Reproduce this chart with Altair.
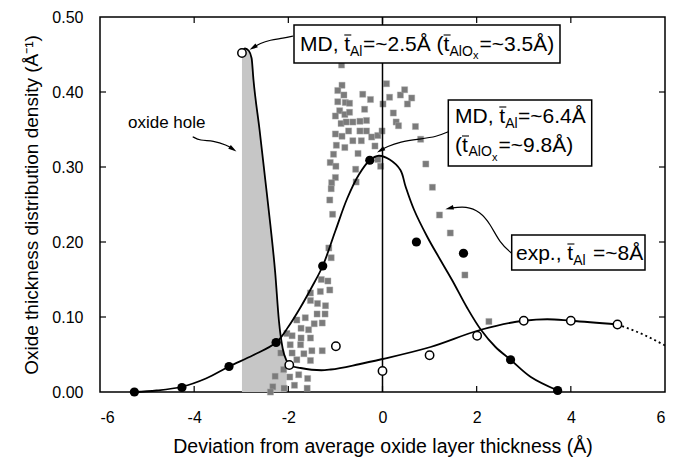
import altair as alt
import pandas as pd

# ---------------- data ----------------
# experimental thickness histogram (gray squares)
exp_x = [-0.87, -0.86, -0.95, -0.82, -0.95, -0.79, -0.70, -0.42, -0.255, 0.085, 0.15, 0.38, 0.47, 0.62,
         0.53, 0.01, -0.38, -0.91, -1.0, -0.80, -0.70, -0.88, -0.77, -0.63, -0.48, -0.34, 0.23, 0.29,
         0.34, 0.70, -1.0, -0.86, -0.72, -0.48, -0.34, -0.23, -0.10, -0.01, -0.98, -0.80, -0.63, -0.45,
         -0.16, -0.52, -1.04, -1.11, -0.99, -0.10, -0.04, -0.57, -1.0, -1.08, -0.56, -1.09, -1.12, -1.06,
         -1.14, -1.09, -1.30, -1.16, -1.12, -1.32, -1.53, -1.53, -1.38, -1.21, -1.64, -1.39, -1.22, 0.92,
         1.06, 1.21, 1.44, 1.75, 0.81, -1.82, -1.45, -1.28, -1.73, -1.57, -2.03, -1.92, -1.73, -1.53,
         -1.96, -1.74, -2.16, -1.92, -1.67, -1.50, -1.28, -1.82, -1.53, -2.10, -2.28, -1.97, -1.78,
         -1.59, -2.33, -2.09, -1.87, -1.60, -2.38, 2.26]
exp_y = [0.436, 0.409, 0.402, 0.396, 0.387, 0.386, 0.385, 0.397, 0.390, 0.411, 0.393, 0.396, 0.403, 0.392,
         0.384, 0.384, 0.377, 0.375, 0.368, 0.370, 0.373, 0.358, 0.360, 0.360, 0.361, 0.362, 0.372, 0.360,
         0.355, 0.354, 0.344, 0.341, 0.348, 0.348, 0.348, 0.340, 0.342, 0.348, 0.329, 0.326, 0.335, 0.335,
         0.328, 0.318, 0.317, 0.306, 0.301, 0.310, 0.301, 0.297, 0.286, 0.279, 0.280, 0.271, 0.256, 0.237,
         0.192, 0.179, 0.150, 0.148, 0.136, 0.134, 0.132, 0.122, 0.118, 0.115, 0.099, 0.104, 0.104, 0.304,
         0.273, 0.236, 0.212, 0.156, 0.337, 0.096, 0.091, 0.092, 0.085, 0.083, 0.078, 0.075, 0.072, 0.072,
         0.063, 0.063, 0.052, 0.052, 0.051, 0.055, 0.055, 0.043, 0.042, 0.030, 0.021, 0.020, 0.023,
         0.018, 0.007, 0.005, 0.009, 0.005, 0.0, 0.094]

# MD, t_Al ~ 6.4 A : filled circles and their smooth curve
md64_x = [-5.27, -4.26, -3.26, -2.26, -1.27, -0.27, 0.72, 1.72, 2.72, 3.72]
md64_y = [0.0, 0.006, 0.034, 0.066, 0.168, 0.309, 0.20, 0.185, 0.043, 0.002]
md64_curve_x = [-5.27, -4.8, -4.26, -3.75, -3.26, -2.75, -2.26, -2.0, -1.75, -1.5, -1.27, -1.0,
                -0.75, -0.5, -0.27, -0.08, 0.15, 0.38, 0.49, 0.67, 0.95, 1.23, 1.48, 1.8, 2.09, 2.4,
                2.72, 3.15, 3.72]
md64_curve_y = [0.0, 0.002, 0.007, 0.018, 0.034, 0.049, 0.066, 0.087, 0.112, 0.14, 0.168, 0.215,
                0.258, 0.29, 0.309, 0.315, 0.31, 0.296, 0.274, 0.243, 0.207, 0.176, 0.149, 0.112, 0.083,
                0.06, 0.043, 0.020, 0.002]

# MD, t_Al ~ 2.5 A : open circles and their smooth curve (dotted beyond x = 5)
md25_x = [-2.985, -1.98, -0.99, 0.0, 1.0, 2.01, 3.0, 4.0, 4.99]
md25_y = [0.452, 0.036, 0.061, 0.028, 0.049, 0.075, 0.095, 0.095, 0.090]
md25_curve_x = [-2.985, -2.92, -2.84, -2.78, -2.74, -2.61, -2.49, -2.38, -2.28, -2.2, -2.12, -2.04,
                -1.95, -1.74, -1.3, -1.1, -0.5, 0.0, 1.02, 2.09, 3.0, 3.5, 4.0, 4.99]
md25_curve_y = [0.452, 0.458, 0.455, 0.445, 0.416, 0.349, 0.283, 0.222, 0.16, 0.095, 0.058, 0.042,
                0.035, 0.032, 0.029, 0.030, 0.037, 0.044, 0.060, 0.083, 0.095, 0.097, 0.095, 0.090]
md25_tail_x = [4.99, 5.56, 6.0]
md25_tail_y = [0.090, 0.076, 0.062]
hole_limit = -2.04   # right end of the shaded "oxide hole"

x_ticks = [-6, -4, -2, 0, 2, 4, 6]
y_ticks = [0.0, 0.1, 0.2, 0.3, 0.4, 0.5]

# ---------------- layout ----------------
W, H = 565, 375
FONT = "Liberation Sans"

xs = alt.Scale(domain=[-6, 6], nice=False)
ys = alt.Scale(domain=[0, 0.5], nice=False)

x_axis = alt.Axis(values=x_ticks, labelExpr="toString(datum.value)",
                  title="Deviation from average oxide layer thickness (Å)",
                  grid=False, ticks=False, domain=False, labelPadding=17, titlePadding=12,
                  labelFontSize=16, titleFontSize=19.5, titleFontWeight="normal",
                  labelColor="black", titleColor="black", labelFont=FONT, titleFont=FONT)
y_axis = alt.Axis(values=y_ticks, format=".2f",
                  title="Oxide thickness distribution density (Å⁻¹)",
                  grid=False, ticks=False, domain=False, labelPadding=17, titlePadding=10,
                  labelFontSize=16, titleFontSize=19, titleFontWeight="normal",
                  labelColor="black", titleColor="black", labelFont=FONT, titleFont=FONT)

df_exp = pd.DataFrame({"x": exp_x, "y": exp_y})
df_64 = pd.DataFrame({"x": md64_x, "y": md64_y})
df_64c = pd.DataFrame({"x": md64_curve_x, "y": md64_curve_y})
df_25 = pd.DataFrame({"x": md25_x, "y": md25_y})
df_25c = pd.DataFrame({"x": md25_curve_x, "y": md25_curve_y})
df_25t = pd.DataFrame({"x": md25_tail_x, "y": md25_tail_y})
df_hole = df_25c[df_25c["x"] <= hole_limit]


def X():
    return alt.X("x:Q", scale=xs, axis=x_axis)


def Y():
    return alt.Y("y:Q", scale=ys, axis=y_axis)


hole = alt.Chart(df_hole).mark_area(color="#c6c6c6", interpolate="monotone").encode(x=X(), y=Y())

squares = alt.Chart(df_exp).mark_square(size=38, color="#7b7b7b", opacity=1,
                                        stroke="#b0b0b0", strokeWidth=0.4).encode(x=X(), y=Y())

zero = alt.Chart(pd.DataFrame({"x": [0]})).mark_rule(color="black", strokeWidth=1.5).encode(
    x=X(), y=alt.value(0), y2=alt.value(H))

line64 = alt.Chart(df_64c).mark_line(color="black", strokeWidth=1.8, interpolate="catmull-rom").encode(
    x=X(), y=Y())
line25 = alt.Chart(df_25c).mark_line(color="black", strokeWidth=1.8, interpolate="monotone").encode(
    x=X(), y=Y())
tail25 = alt.Chart(df_25t).mark_line(color="black", strokeWidth=1.8, strokeDash=[2, 3],
                                     interpolate="monotone").encode(x=X(), y=Y())

dots64 = alt.Chart(df_64).mark_circle(size=85, color="black", opacity=1).encode(x=X(), y=Y())
circ25 = alt.Chart(df_25).mark_point(shape="circle", size=70, filled=True, fill="white",
                                     stroke="black", strokeWidth=1.5, opacity=1).encode(x=X(), y=Y())

# inward ticks on all four sides
xt = pd.DataFrame({"x": x_ticks[1:-1]})
yt = pd.DataFrame({"y": y_ticks[1:-1]})
tick_style = dict(color="black", strokeWidth=1.2)
ticks = [
    alt.Chart(xt).mark_rule(**tick_style).encode(x=X(), y=alt.value(H), y2=alt.value(H - 6)),
    alt.Chart(xt).mark_rule(**tick_style).encode(x=X(), y=alt.value(0), y2=alt.value(6)),
    alt.Chart(yt).mark_rule(**tick_style).encode(y=Y(), x=alt.value(0), x2=alt.value(6)),
    alt.Chart(yt).mark_rule(**tick_style).encode(y=Y(), x=alt.value(W), x2=alt.value(W - 6)),
]

# ---------------- annotations (pixel positions inside the plot area) ----------------
P = dict(scale=None, axis=None)

arrows = pd.DataFrame({
    "id": [1] * 5 + [2] * 6 + [3] * 6 + [4] * 5,
    "px": [193.3, 183.3, 170, 160, 153.1,
           348.3, 336.7, 320, 300, 286.7, 280.6,
           411.7, 400, 390, 380, 366.7, 349.4,
           92.7, 100, 113.3, 126.7, 133],
    "py": [19, 21.3, 23, 26.3, 30.6,
           114.7, 119.7, 122, 124.7, 129.7, 133.4,
           236.3, 226.3, 206.3, 194.7, 189, 191.2,
           119.7, 123.7, 123.7, 128, 132.2],
})
heads = pd.DataFrame({"px": [153.1, 280.6, 349.4, 133],
                      "py": [30.6, 133.4, 191.2, 132.2],
                      "ang": [238, 239, 256, 124]})

arrow_lines = alt.Chart(arrows).mark_line(color="black", strokeWidth=1.2, interpolate="basis").encode(
    x=alt.X("px:Q", **P), y=alt.Y("py:Q", **P), detail="id:N")
arrow_heads = alt.Chart(heads).mark_point(shape="M0,-1L0.55,1L-0.55,1Z", size=70, filled=True,
                                          color="black", opacity=1).encode(
    x=alt.X("px:Q", **P), y=alt.Y("py:Q", **P), angle=alt.Angle("ang:Q", scale=None))

boxes = pd.DataFrame({"x1": [194, 348.3, 411.7], "x2": [460, 491.7, 545],
                      "y1": [8, 83, 218], "y2": [46, 149, 253]})
box_marks = alt.Chart(boxes).mark_rect(fill="white", stroke="black", strokeWidth=1.5).encode(
    x=alt.X("x1:Q", **P), x2="x2:Q", y=alt.Y("y1:Q", **P), y2="y2:Q")

texts = pd.DataFrame([
    ("MD, t", 200, 34, 21), ("Al", 250, 39, 14), ("=~2.5Å (t", 263, 34, 21),
    ("AlO", 349.5, 39, 14), ("x", 373, 42, 11), ("=~3.5Å)", 379.5, 34, 21),
    ("MD, t", 355, 106, 21), ("Al", 405.2, 111, 14), ("=~6.4Å", 418, 106, 21),
    ("(t", 355, 135, 21), ("AlO", 368.5, 139, 14), ("x", 392, 143.5, 11), ("=~9.8Å)", 398.5, 135, 21),
    ("exp., t", 416, 243, 21), ("Al", 473.2, 248, 14), ("=~8Å", 493, 243, 21),
    ("oxide hole", 28, 111, 17),
], columns=["t", "px", "py", "fs"])
text_marks = alt.Chart(texts).mark_text(align="left", baseline="alphabetic", color="black",
                                        font=FONT).encode(
    x=alt.X("px:Q", **P), y=alt.Y("py:Q", **P), text="t:N", size=alt.Size("fs:Q", scale=None))

bars = pd.DataFrame({"x1": [244.3, 343.6, 399.3, 362, 467.4],
                     "x2": [251.3, 350.6, 406.3, 369, 474.4],
                     "y1": [18, 18, 90, 119, 227]})
overlines = alt.Chart(bars).mark_rule(color="black", strokeWidth=1.1).encode(
    x=alt.X("x1:Q", **P), x2="x2:Q", y=alt.Y("y1:Q", **P))

chart = alt.layer(
    hole, squares, zero, line64, line25, tail25, dots64, circ25, *ticks,
    arrow_lines, arrow_heads, box_marks, text_marks, overlines
).properties(
    width=W, height=H,
    autosize=alt.AutoSizeParams(type="none"),
    padding={"left": 100, "top": 17, "right": 22, "bottom": 66},
).configure(font=FONT).configure_view(stroke="black", strokeWidth=1.5)

chart.save("out.html", embed_options={"renderer": "svg", "actions": False})
